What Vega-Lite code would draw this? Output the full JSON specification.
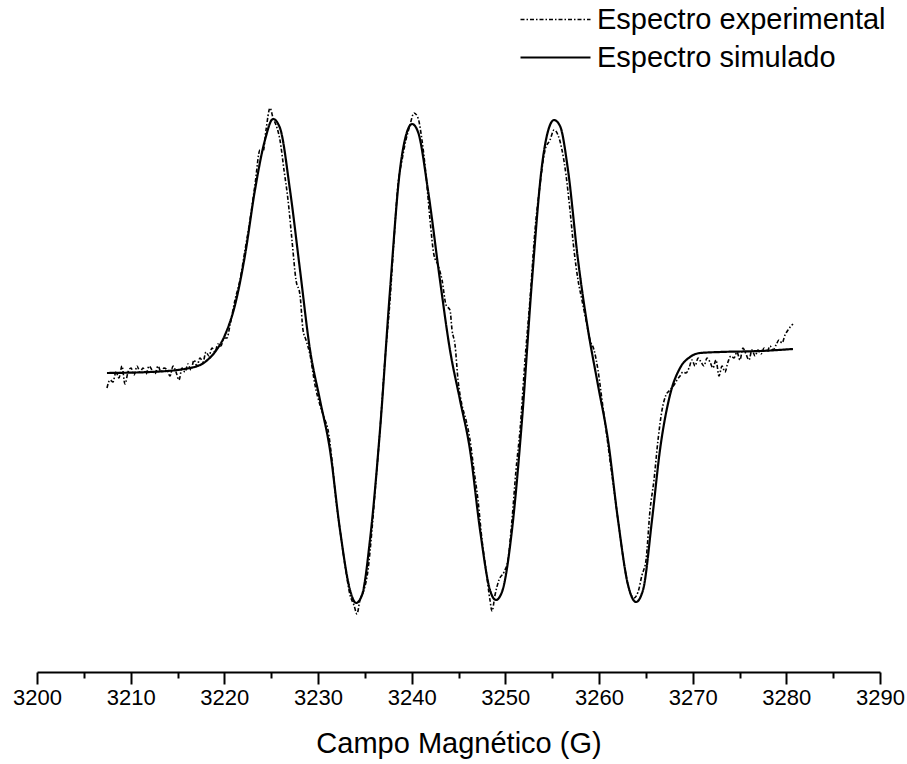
{
  "$schema": "https://vega.github.io/schema/vega-lite/v6.json",
  "width": 843,
  "height": 582,
  "autosize": {"type": "none"},
  "padding": {"left": 37, "top": 90, "right": 27, "bottom": 92},
  "background": "white",
  "config": {"view": {"stroke": null}, "font": "Liberation Sans"},
  "data": {"values": [
    {"serie": "Espectro simulado", "campo": 3207.47, "senal": -1},
    {"serie": "Espectro simulado", "campo": 3212.06, "senal": 0},
    {"serie": "Espectro simulado", "campo": 3216.33, "senal": 4},
    {"serie": "Espectro simulado", "campo": 3217.94, "senal": 10},
    {"serie": "Espectro simulado", "campo": 3219.00, "senal": 20},
    {"serie": "Espectro simulado", "campo": 3220.07, "senal": 37},
    {"serie": "Espectro simulado", "campo": 3221.14, "senal": 67},
    {"serie": "Espectro simulado", "campo": 3222.21, "senal": 117},
    {"serie": "Espectro simulado", "campo": 3223.27, "senal": 182},
    {"serie": "Espectro simulado", "campo": 3224.34, "senal": 232},
    {"serie": "Espectro simulado", "campo": 3225.20, "senal": 253},
    {"serie": "Espectro simulado", "campo": 3225.94, "senal": 244},
    {"serie": "Espectro simulado", "campo": 3227.01, "senal": 182},
    {"serie": "Espectro simulado", "campo": 3228.08, "senal": 102},
    {"serie": "Espectro simulado", "campo": 3229.15, "senal": 22},
    {"serie": "Espectro simulado", "campo": 3230.21, "senal": -28},
    {"serie": "Espectro simulado", "campo": 3231.28, "senal": -78},
    {"serie": "Espectro simulado", "campo": 3232.35, "senal": -158},
    {"serie": "Espectro simulado", "campo": 3233.42, "senal": -218},
    {"serie": "Espectro simulado", "campo": 3234.06, "senal": -231},
    {"serie": "Espectro simulado", "campo": 3234.70, "senal": -223},
    {"serie": "Espectro simulado", "campo": 3235.55, "senal": -168},
    {"serie": "Espectro simulado", "campo": 3236.62, "senal": -58},
    {"serie": "Espectro simulado", "campo": 3237.69, "senal": 82},
    {"serie": "Espectro simulado", "campo": 3238.75, "senal": 202},
    {"serie": "Espectro simulado", "campo": 3239.50, "senal": 240},
    {"serie": "Espectro simulado", "campo": 3240.04, "senal": 248},
    {"serie": "Espectro simulado", "campo": 3240.68, "senal": 240},
    {"serie": "Espectro simulado", "campo": 3241.74, "senal": 182},
    {"serie": "Espectro simulado", "campo": 3243.02, "senal": 92},
    {"serie": "Espectro simulado", "campo": 3244.09, "senal": 22},
    {"serie": "Espectro simulado", "campo": 3245.16, "senal": -28},
    {"serie": "Espectro simulado", "campo": 3246.23, "senal": -78},
    {"serie": "Espectro simulado", "campo": 3247.30, "senal": -158},
    {"serie": "Espectro simulado", "campo": 3248.36, "senal": -218},
    {"serie": "Espectro simulado", "campo": 3249.00, "senal": -228},
    {"serie": "Espectro simulado", "campo": 3249.64, "senal": -220},
    {"serie": "Espectro simulado", "campo": 3250.71, "senal": -158},
    {"serie": "Espectro simulado", "campo": 3251.78, "senal": -48},
    {"serie": "Espectro simulado", "campo": 3252.85, "senal": 92},
    {"serie": "Espectro simulado", "campo": 3253.92, "senal": 207},
    {"serie": "Espectro simulado", "campo": 3254.77, "senal": 247},
    {"serie": "Espectro simulado", "campo": 3255.20, "senal": 252},
    {"serie": "Espectro simulado", "campo": 3255.84, "senal": 246},
    {"serie": "Espectro simulado", "campo": 3256.69, "senal": 202},
    {"serie": "Espectro simulado", "campo": 3257.76, "senal": 112},
    {"serie": "Espectro simulado", "campo": 3258.83, "senal": 42},
    {"serie": "Espectro simulado", "campo": 3259.89, "senal": -13},
    {"serie": "Espectro simulado", "campo": 3260.96, "senal": -68},
    {"serie": "Espectro simulado", "campo": 3262.03, "senal": -148},
    {"serie": "Espectro simulado", "campo": 3263.10, "senal": -213},
    {"serie": "Espectro simulado", "campo": 3263.95, "senal": -230},
    {"serie": "Espectro simulado", "campo": 3264.70, "senal": -218},
    {"serie": "Espectro simulado", "campo": 3265.66, "senal": -148},
    {"serie": "Espectro simulado", "campo": 3266.51, "senal": -78},
    {"serie": "Espectro simulado", "campo": 3267.58, "senal": -23},
    {"serie": "Espectro simulado", "campo": 3268.65, "senal": 4},
    {"serie": "Espectro simulado", "campo": 3269.72, "senal": 15},
    {"serie": "Espectro simulado", "campo": 3270.78, "senal": 19},
    {"serie": "Espectro simulado", "campo": 3272.92, "senal": 20},
    {"serie": "Espectro simulado", "campo": 3277.19, "senal": 21},
    {"serie": "Espectro simulado", "campo": 3280.71, "senal": 23},
    {"serie": "Espectro experimental", "campo": 3207.47, "senal": -16},
    {"serie": "Espectro experimental", "campo": 3207.79, "senal": -8},
    {"serie": "Espectro experimental", "campo": 3208.11, "senal": -10},
    {"serie": "Espectro experimental", "campo": 3208.43, "senal": 0},
    {"serie": "Espectro experimental", "campo": 3208.75, "senal": -6},
    {"serie": "Espectro experimental", "campo": 3209.07, "senal": 6},
    {"serie": "Espectro experimental", "campo": 3209.39, "senal": -12},
    {"serie": "Espectro experimental", "campo": 3209.72, "senal": 0},
    {"serie": "Espectro experimental", "campo": 3210.04, "senal": 4},
    {"serie": "Espectro experimental", "campo": 3210.36, "senal": -3},
    {"serie": "Espectro experimental", "campo": 3210.68, "senal": 6},
    {"serie": "Espectro experimental", "campo": 3211.00, "senal": 0},
    {"serie": "Espectro experimental", "campo": 3211.32, "senal": 4},
    {"serie": "Espectro experimental", "campo": 3211.64, "senal": -2},
    {"serie": "Espectro experimental", "campo": 3211.96, "senal": 6},
    {"serie": "Espectro experimental", "campo": 3212.28, "senal": 2},
    {"serie": "Espectro experimental", "campo": 3212.60, "senal": -2},
    {"serie": "Espectro experimental", "campo": 3212.92, "senal": 6},
    {"serie": "Espectro experimental", "campo": 3213.24, "senal": 0},
    {"serie": "Espectro experimental", "campo": 3213.56, "senal": 4},
    {"serie": "Espectro experimental", "campo": 3213.88, "senal": 2},
    {"serie": "Espectro experimental", "campo": 3214.20, "senal": -4},
    {"serie": "Espectro experimental", "campo": 3214.52, "senal": 6},
    {"serie": "Espectro experimental", "campo": 3214.84, "senal": 0},
    {"serie": "Espectro experimental", "campo": 3215.16, "senal": -8},
    {"serie": "Espectro experimental", "campo": 3215.48, "senal": 4},
    {"serie": "Espectro experimental", "campo": 3215.80, "senal": 0},
    {"serie": "Espectro experimental", "campo": 3216.12, "senal": 8},
    {"serie": "Espectro experimental", "campo": 3216.44, "senal": 2},
    {"serie": "Espectro experimental", "campo": 3216.76, "senal": 12},
    {"serie": "Espectro experimental", "campo": 3217.08, "senal": 6},
    {"serie": "Espectro experimental", "campo": 3217.40, "senal": 14},
    {"serie": "Espectro experimental", "campo": 3217.72, "senal": 10},
    {"serie": "Espectro experimental", "campo": 3218.04, "senal": 20},
    {"serie": "Espectro experimental", "campo": 3218.36, "senal": 16},
    {"serie": "Espectro experimental", "campo": 3218.68, "senal": 24},
    {"serie": "Espectro experimental", "campo": 3219.00, "senal": 20},
    {"serie": "Espectro experimental", "campo": 3219.32, "senal": 28},
    {"serie": "Espectro experimental", "campo": 3219.64, "senal": 26},
    {"serie": "Espectro experimental", "campo": 3219.96, "senal": 34},
    {"serie": "Espectro experimental", "campo": 3220.28, "senal": 34},
    {"serie": "Espectro experimental", "campo": 3220.61, "senal": 47},
    {"serie": "Espectro experimental", "campo": 3221.14, "senal": 72},
    {"serie": "Espectro experimental", "campo": 3221.67, "senal": 92},
    {"serie": "Espectro experimental", "campo": 3222.21, "senal": 122},
    {"serie": "Espectro experimental", "campo": 3222.74, "senal": 152},
    {"serie": "Espectro experimental", "campo": 3223.27, "senal": 187},
    {"serie": "Espectro experimental", "campo": 3223.81, "senal": 222},
    {"serie": "Espectro experimental", "campo": 3224.13, "senal": 220},
    {"serie": "Espectro experimental", "campo": 3224.45, "senal": 242},
    {"serie": "Espectro experimental", "campo": 3224.88, "senal": 264},
    {"serie": "Espectro experimental", "campo": 3225.20, "senal": 254},
    {"serie": "Espectro experimental", "campo": 3225.52, "senal": 247},
    {"serie": "Espectro experimental", "campo": 3225.94, "senal": 232},
    {"serie": "Espectro experimental", "campo": 3226.37, "senal": 202},
    {"serie": "Espectro experimental", "campo": 3226.80, "senal": 172},
    {"serie": "Espectro experimental", "campo": 3227.22, "senal": 132},
    {"serie": "Espectro experimental", "campo": 3227.65, "senal": 92},
    {"serie": "Espectro experimental", "campo": 3228.08, "senal": 77},
    {"serie": "Espectro experimental", "campo": 3228.40, "senal": 42},
    {"serie": "Espectro experimental", "campo": 3228.72, "senal": 32},
    {"serie": "Espectro experimental", "campo": 3229.15, "senal": 17},
    {"serie": "Espectro experimental", "campo": 3229.68, "senal": -13},
    {"serie": "Espectro experimental", "campo": 3230.21, "senal": -33},
    {"serie": "Espectro experimental", "campo": 3230.75, "senal": -48},
    {"serie": "Espectro experimental", "campo": 3231.07, "senal": -58},
    {"serie": "Espectro experimental", "campo": 3231.49, "senal": -88},
    {"serie": "Espectro experimental", "campo": 3231.92, "senal": -128},
    {"serie": "Espectro experimental", "campo": 3232.35, "senal": -158},
    {"serie": "Espectro experimental", "campo": 3232.88, "senal": -193},
    {"serie": "Espectro experimental", "campo": 3233.42, "senal": -223},
    {"serie": "Espectro experimental", "campo": 3233.84, "senal": -233},
    {"serie": "Espectro experimental", "campo": 3234.16, "senal": -242},
    {"serie": "Espectro experimental", "campo": 3234.48, "senal": -228},
    {"serie": "Espectro experimental", "campo": 3234.91, "senal": -218},
    {"serie": "Espectro experimental", "campo": 3235.34, "senal": -198},
    {"serie": "Espectro experimental", "campo": 3235.76, "senal": -158},
    {"serie": "Espectro experimental", "campo": 3236.19, "senal": -108},
    {"serie": "Espectro experimental", "campo": 3236.62, "senal": -58},
    {"serie": "Espectro experimental", "campo": 3237.15, "senal": 12},
    {"serie": "Espectro experimental", "campo": 3237.69, "senal": 72},
    {"serie": "Espectro experimental", "campo": 3238.11, "senal": 132},
    {"serie": "Espectro experimental", "campo": 3238.54, "senal": 187},
    {"serie": "Espectro experimental", "campo": 3238.97, "senal": 212},
    {"serie": "Espectro experimental", "campo": 3239.39, "senal": 232},
    {"serie": "Espectro experimental", "campo": 3239.82, "senal": 247},
    {"serie": "Espectro experimental", "campo": 3240.25, "senal": 259},
    {"serie": "Espectro experimental", "campo": 3240.68, "senal": 254},
    {"serie": "Espectro experimental", "campo": 3241.10, "senal": 232},
    {"serie": "Espectro experimental", "campo": 3241.53, "senal": 197},
    {"serie": "Espectro experimental", "campo": 3241.96, "senal": 152},
    {"serie": "Espectro experimental", "campo": 3242.38, "senal": 117},
    {"serie": "Espectro experimental", "campo": 3242.81, "senal": 107},
    {"serie": "Espectro experimental", "campo": 3243.24, "senal": 92},
    {"serie": "Espectro experimental", "campo": 3243.67, "senal": 67},
    {"serie": "Espectro experimental", "campo": 3244.09, "senal": 62},
    {"serie": "Espectro experimental", "campo": 3244.31, "senal": 42},
    {"serie": "Espectro experimental", "campo": 3244.63, "senal": 27},
    {"serie": "Espectro experimental", "campo": 3244.95, "senal": -8},
    {"serie": "Espectro experimental", "campo": 3245.37, "senal": -33},
    {"serie": "Espectro experimental", "campo": 3245.80, "senal": -48},
    {"serie": "Espectro experimental", "campo": 3246.23, "senal": -68},
    {"serie": "Espectro experimental", "campo": 3246.65, "senal": -98},
    {"serie": "Espectro experimental", "campo": 3247.08, "senal": -128},
    {"serie": "Espectro experimental", "campo": 3247.51, "senal": -168},
    {"serie": "Espectro experimental", "campo": 3247.94, "senal": -198},
    {"serie": "Espectro experimental", "campo": 3248.36, "senal": -228},
    {"serie": "Espectro experimental", "campo": 3248.58, "senal": -239},
    {"serie": "Espectro experimental", "campo": 3248.90, "senal": -223},
    {"serie": "Espectro experimental", "campo": 3249.32, "senal": -208},
    {"serie": "Espectro experimental", "campo": 3249.86, "senal": -200},
    {"serie": "Espectro experimental", "campo": 3250.28, "senal": -188},
    {"serie": "Espectro experimental", "campo": 3250.71, "senal": -148},
    {"serie": "Espectro experimental", "campo": 3251.14, "senal": -98},
    {"serie": "Espectro experimental", "campo": 3251.57, "senal": -58},
    {"serie": "Espectro experimental", "campo": 3252.10, "senal": 12},
    {"serie": "Espectro experimental", "campo": 3252.63, "senal": 72},
    {"serie": "Espectro experimental", "campo": 3253.17, "senal": 142},
    {"serie": "Espectro experimental", "campo": 3253.70, "senal": 187},
    {"serie": "Espectro experimental", "campo": 3254.24, "senal": 222},
    {"serie": "Espectro experimental", "campo": 3254.77, "senal": 232},
    {"serie": "Espectro experimental", "campo": 3255.20, "senal": 242},
    {"serie": "Espectro experimental", "campo": 3255.62, "senal": 237},
    {"serie": "Espectro experimental", "campo": 3256.05, "senal": 222},
    {"serie": "Espectro experimental", "campo": 3256.48, "senal": 197},
    {"serie": "Espectro experimental", "campo": 3256.90, "senal": 162},
    {"serie": "Espectro experimental", "campo": 3257.33, "senal": 122},
    {"serie": "Espectro experimental", "campo": 3257.76, "senal": 92},
    {"serie": "Espectro experimental", "campo": 3258.18, "senal": 72},
    {"serie": "Espectro experimental", "campo": 3258.61, "senal": 52},
    {"serie": "Espectro experimental", "campo": 3259.04, "senal": 32},
    {"serie": "Espectro experimental", "campo": 3259.47, "senal": 22},
    {"serie": "Espectro experimental", "campo": 3259.89, "senal": 2},
    {"serie": "Espectro experimental", "campo": 3260.32, "senal": -28},
    {"serie": "Espectro experimental", "campo": 3260.75, "senal": -58},
    {"serie": "Espectro experimental", "campo": 3261.17, "senal": -88},
    {"serie": "Espectro experimental", "campo": 3261.60, "senal": -118},
    {"serie": "Espectro experimental", "campo": 3262.03, "senal": -148},
    {"serie": "Espectro experimental", "campo": 3262.46, "senal": -178},
    {"serie": "Espectro experimental", "campo": 3262.88, "senal": -203},
    {"serie": "Espectro experimental", "campo": 3263.31, "senal": -220},
    {"serie": "Espectro experimental", "campo": 3263.74, "senal": -226},
    {"serie": "Espectro experimental", "campo": 3264.17, "senal": -220},
    {"serie": "Espectro experimental", "campo": 3264.59, "senal": -203},
    {"serie": "Espectro experimental", "campo": 3265.02, "senal": -188},
    {"serie": "Espectro experimental", "campo": 3265.45, "senal": -138},
    {"serie": "Espectro experimental", "campo": 3265.87, "senal": -108},
    {"serie": "Espectro experimental", "campo": 3266.30, "senal": -68},
    {"serie": "Espectro experimental", "campo": 3266.73, "senal": -38},
    {"serie": "Espectro experimental", "campo": 3267.15, "senal": -23},
    {"serie": "Espectro experimental", "campo": 3267.58, "senal": -18},
    {"serie": "Espectro experimental", "campo": 3268.01, "senal": -13},
    {"serie": "Espectro experimental", "campo": 3268.33, "senal": -8},
    {"serie": "Espectro experimental", "campo": 3268.65, "senal": -4},
    {"serie": "Espectro experimental", "campo": 3268.97, "senal": 0},
    {"serie": "Espectro experimental", "campo": 3269.29, "senal": -1},
    {"serie": "Espectro experimental", "campo": 3269.61, "senal": 4},
    {"serie": "Espectro experimental", "campo": 3269.93, "senal": 12},
    {"serie": "Espectro experimental", "campo": 3270.25, "senal": 6},
    {"serie": "Espectro experimental", "campo": 3270.58, "senal": 14},
    {"serie": "Espectro experimental", "campo": 3270.89, "senal": 10},
    {"serie": "Espectro experimental", "campo": 3271.21, "senal": 6},
    {"serie": "Espectro experimental", "campo": 3271.53, "senal": 14},
    {"serie": "Espectro experimental", "campo": 3271.85, "senal": 10},
    {"serie": "Espectro experimental", "campo": 3272.17, "senal": 4},
    {"serie": "Espectro experimental", "campo": 3272.49, "senal": 12},
    {"serie": "Espectro experimental", "campo": 3272.81, "senal": -4},
    {"serie": "Espectro experimental", "campo": 3273.13, "senal": 6},
    {"serie": "Espectro experimental", "campo": 3273.45, "senal": 0},
    {"serie": "Espectro experimental", "campo": 3273.77, "senal": 10},
    {"serie": "Espectro experimental", "campo": 3274.09, "senal": 16},
    {"serie": "Espectro experimental", "campo": 3274.41, "senal": 14},
    {"serie": "Espectro experimental", "campo": 3274.73, "senal": 20},
    {"serie": "Espectro experimental", "campo": 3275.05, "senal": 12},
    {"serie": "Espectro experimental", "campo": 3275.37, "senal": 24},
    {"serie": "Espectro experimental", "campo": 3275.69, "senal": 18},
    {"serie": "Espectro experimental", "campo": 3276.01, "senal": 12},
    {"serie": "Espectro experimental", "campo": 3276.33, "senal": 22},
    {"serie": "Espectro experimental", "campo": 3276.66, "senal": 16},
    {"serie": "Espectro experimental", "campo": 3276.98, "senal": 22},
    {"serie": "Espectro experimental", "campo": 3277.30, "senal": 18},
    {"serie": "Espectro experimental", "campo": 3277.62, "senal": 24},
    {"serie": "Espectro experimental", "campo": 3277.94, "senal": 20},
    {"serie": "Espectro experimental", "campo": 3278.26, "senal": 26},
    {"serie": "Espectro experimental", "campo": 3278.58, "senal": 22},
    {"serie": "Espectro experimental", "campo": 3278.90, "senal": 27},
    {"serie": "Espectro experimental", "campo": 3279.22, "senal": 32},
    {"serie": "Espectro experimental", "campo": 3279.54, "senal": 29},
    {"serie": "Espectro experimental", "campo": 3279.86, "senal": 37},
    {"serie": "Espectro experimental", "campo": 3280.18, "senal": 42},
    {"serie": "Espectro experimental", "campo": 3280.50, "senal": 46},
    {"serie": "Espectro experimental", "campo": 3280.71, "senal": 48}
  ]},
  "mark": {"type": "line", "color": "black", "interpolate": "monotone"},
  "encoding": {
    "x": {
      "field": "campo", "type": "quantitative",
      "scale": {"domain": [3200, 3290], "nice": false, "zero": false},
      "axis": {
        "title": "Campo Magnético (G)",
        "values": [3200, 3205, 3210, 3215, 3220, 3225, 3230, 3235, 3240, 3245, 3250, 3255, 3260, 3265, 3270, 3275, 3280, 3285, 3290],
        "labelExpr": "datum.value % 10 === 0 ? datum.label : ''",
        "tickSize": {"condition": {"test": "datum.value % 10 === 0", "value": 12}, "value": 6},
        "format": "d",
        "grid": false,
        "domainColor": "black", "domainWidth": 2,
        "tickColor": "black", "tickWidth": 2,
        "labelColor": "black", "labelFontSize": 22, "labelFont": "Liberation Sans",
        "labelPadding": 3, "labelOverlap": false, "labelBound": false, "labelFlush": false,
        "titleColor": "black", "titleFontSize": 29, "titleFont": "Liberation Sans",
        "titleFontWeight": "normal", "titlePadding": 21
      }
    },
    "y": {
      "field": "senal", "type": "quantitative",
      "scale": {"domain": [-300, 282], "nice": false, "zero": false},
      "axis": null
    },
    "strokeDash": {
      "field": "serie", "type": "nominal",
      "scale": {"domain": ["Espectro experimental", "Espectro simulado"], "range": [[4, 2, 1.5, 2], [1, 0]]},
      "legend": {
        "title": null, "orient": "none", "legendX": 504, "legendY": -85,
        "symbolType": "M-7,0H7", "symbolSize": 100, "symbolStrokeColor": "black",
        "labelOffset": 27, "labelFontSize": 29, "labelFont": "Liberation Sans", "labelColor": "black",
        "labelLimit": 0, "rowPadding": 8, "padding": 0
      }
    },
    "strokeWidth": {
      "field": "serie", "type": "nominal",
      "scale": {"domain": ["Espectro experimental", "Espectro simulado"], "range": [1.6, 2.2]},
      "legend": {
        "title": null, "orient": "none", "legendX": 504, "legendY": -85,
        "symbolType": "M-7,0H7", "symbolSize": 100, "symbolStrokeColor": "black",
        "labelOffset": 27, "labelFontSize": 29, "labelFont": "Liberation Sans", "labelColor": "black",
        "labelLimit": 0, "rowPadding": 8, "padding": 0
      }
    }
  }
}
